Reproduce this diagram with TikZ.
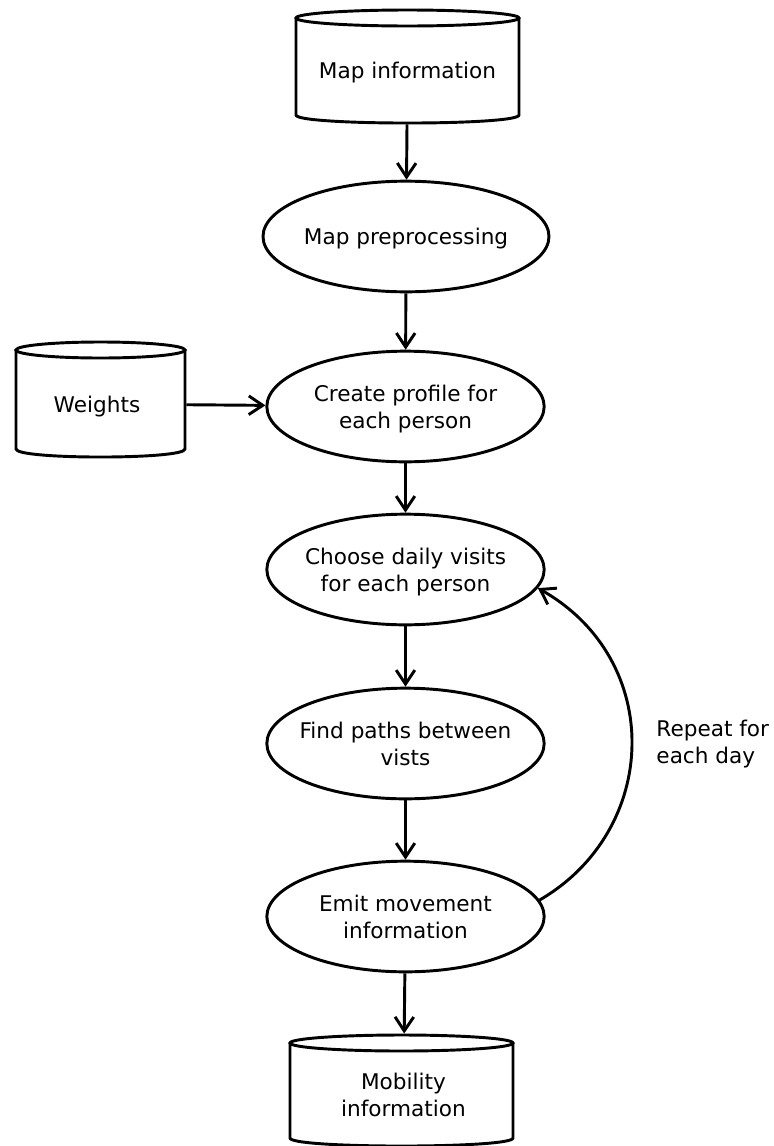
\documentclass[tikz,border=0pt]{standalone}
\usepackage{fontspec}
\setmainfont{DejaVu Sans}
\usepackage{tikz}
\usetikzlibrary{shapes.geometric, arrows.meta}

\begin{document}
\begin{tikzpicture}[x=0.75pt,y=0.75pt,yscale=-1,xscale=1,
    line width=2.2pt,
    txt/.style={font=\fontsize{16.2pt}{20.2pt}\selectfont, align=center, text depth=0pt},
    proc/.style={txt, ellipse, draw, inner xsep=-6pt, inner ysep=0pt, minimum width=208pt, minimum height=83pt},
    store/.style={txt, inner sep=0pt, minimum width=167pt},
    arr/.style={-{Straight Barb[length=10.5pt, width=14pt, line width=2.2pt]}}]
    \useasboundingbox (0,0) rectangle (774,1146);

    %Shape: Can (map information)
    \draw (407.5,18) ellipse (111.5 and 8);
    \draw (296,18) -- (296,115) .. controls (296,125.7) and (519,125.7) .. (519,115) -- (519,18);
    %Shape: Can (weights)
    \draw (100.5,350) ellipse (84.5 and 8);
    \draw (16,350) -- (16,449) .. controls (16,459.7) and (185,459.7) .. (185,449) -- (185,350);
    %Shape: Can (mobility information)
    \draw (401.5,1043) ellipse (111.5 and 8);
    \draw (290,1043) -- (290,1138) .. controls (290,1148.7) and (513,1148.7) .. (513,1138) -- (513,1043);

    % Text Node
    \node (mapinfo) [store, minimum height=78.75pt] at (407.5,70.5) {Map information};
    % Text Node
    \node (weights) [store, minimum width=132pt, minimum height=70pt] at (97,404) {Weights};
    % Text Node
    \node (mobility) [store, minimum height=90pt] at (403.5,1095) {Mobility\\information};

    % Ellipses
    \node (prep) [proc, minimum width=214.5pt] at (406,236.5) {Map preprocessing};
    \node (profile) [proc] at (405.5,406.5) {Create profile for\\each person};
    \node (choose) [proc] at (405.5,569.5) {Choose daily visits\\for each person};
    \node (paths) [proc] at (405.5,743.5) {Find paths between\\vists};
    \node (emit) [proc] at (405.5,916.5) {Emit movement\\information};

    % Text Node
    \node (repeat) [txt, align=left, inner sep=0pt, anchor=west] at (655,742) {Repeat for\\each day};

    %Straight Lines
    \draw [arr] (mapinfo) -- (prep);
    \draw [arr] (prep) -- (profile);
    \draw [arr] (weights) -- (profile);
    \draw [arr] (profile) -- (choose);
    \draw [arr] (choose) -- (paths);
    \draw [arr] (paths) -- (emit);
    \draw [arr] (emit) -- (mobility);
    %Curve Lines
    \draw [arr] (emit.7) .. controls (660,830) and (665,660) .. (choose.-8);
\end{tikzpicture}
\end{document}
